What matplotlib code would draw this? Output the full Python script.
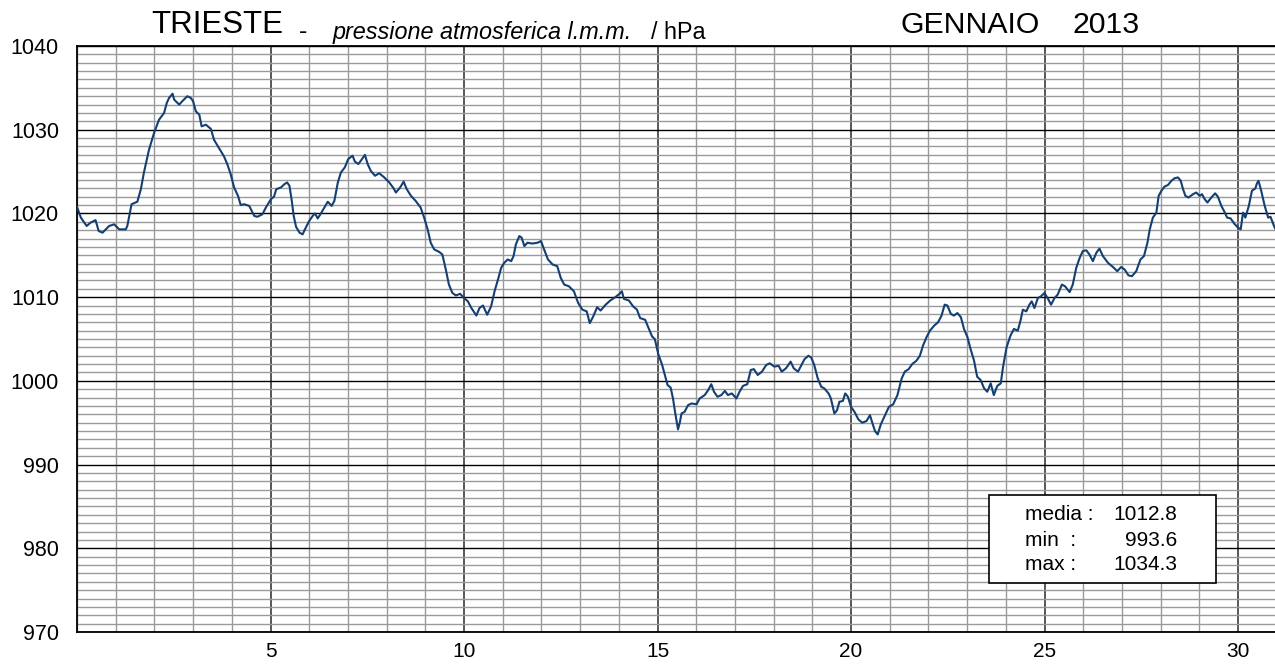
import matplotlib
matplotlib.use("Agg")
import matplotlib.pyplot as plt
from matplotlib.patches import Rectangle
from matplotlib.ticker import MultipleLocator

plt.rcParams['font.family'] = ['Liberation Sans', 'DejaVu Sans']

# ---- data (day of month offset, pressure hPa) ----
days = [
    0.00, 0.10, 0.25, 0.35, 0.48, 0.56, 0.66, 0.83, 0.96, 1.09, 1.26, 1.30, 1.41, 1.56, 1.65, 1.73,
    1.86, 1.99, 2.12, 2.25, 2.32, 2.38, 2.47, 2.51, 2.64, 2.72, 2.85, 2.94, 3.00, 3.07, 3.16, 3.22,
    3.33, 3.46, 3.54, 3.67, 3.80, 3.89, 3.97, 4.06, 4.16, 4.23, 4.32, 4.45, 4.58, 4.66, 4.79, 4.88,
    5.01, 5.09, 5.15, 5.27, 5.36, 5.43, 5.49, 5.55, 5.60, 5.66, 5.75, 5.83, 5.89, 6.00, 6.09, 6.15,
    6.22, 6.29, 6.39, 6.48, 6.58, 6.65, 6.74, 6.82, 6.92, 7.01, 7.12, 7.18, 7.27, 7.35, 7.44, 7.51,
    7.59, 7.70, 7.81, 7.94, 8.07, 8.18, 8.24, 8.35, 8.44, 8.52, 8.63, 8.75, 8.88, 8.97, 9.06, 9.14,
    9.23, 9.36, 9.44, 9.53, 9.61, 9.70, 9.79, 9.90, 10.00,
    10.10, 10.19, 10.32, 10.40, 10.49, 10.60, 10.70, 10.79, 10.89, 10.96, 11.04, 11.13, 11.22, 11.28,
    11.34, 11.43, 11.49, 11.56, 11.64, 11.77, 11.90, 11.99, 12.07, 12.17, 12.29, 12.41, 12.50, 12.59,
    12.71, 12.84, 12.95, 13.06, 13.17, 13.25, 13.34, 13.44, 13.53, 13.66, 13.78, 13.91, 14.02, 14.08,
    14.13, 14.26, 14.37, 14.47, 14.55, 14.68, 14.77, 14.86, 14.93,
    15.02, 15.12, 15.19, 15.26, 15.34, 15.40, 15.46, 15.53, 15.58, 15.62, 15.70, 15.79, 15.88, 16.01,
    16.09, 16.22, 16.31, 16.39, 16.46, 16.55, 16.65, 16.74, 16.82, 16.92, 17.04, 17.12, 17.21, 17.32,
    17.41, 17.49, 17.59, 17.70, 17.81, 17.90, 18.02, 18.13, 18.21, 18.32, 18.44, 18.52, 18.63, 18.71,
    18.80, 18.90, 18.97, 19.05, 19.14, 19.23, 19.31, 19.42, 19.48, 19.57, 19.64, 19.70, 19.79, 19.85,
    19.92, 20.00,
    20.09, 20.19, 20.29, 20.40, 20.49, 20.55, 20.62, 20.69, 20.77, 20.88, 20.98, 21.09, 21.20, 21.31,
    21.39, 21.49, 21.58, 21.69, 21.78, 21.86, 21.95, 22.04, 22.15, 22.25, 22.34, 22.42, 22.49, 22.58,
    22.66, 22.75, 22.84, 22.92, 23.01, 23.09, 23.18, 23.26, 23.35, 23.44, 23.52, 23.61, 23.69, 23.78,
    23.87, 23.93, 24.02, 24.12, 24.21, 24.31, 24.38, 24.44, 24.53, 24.61, 24.67, 24.74, 24.83, 24.91,
    25.00,
    25.09, 25.17, 25.26, 25.34, 25.45, 25.53, 25.65, 25.73, 25.82, 25.91, 25.99, 26.08, 26.16, 26.25,
    26.34, 26.42, 26.51, 26.64, 26.77, 26.88, 26.98, 27.07, 27.17, 27.26, 27.37, 27.48, 27.57, 27.66,
    27.72, 27.80, 27.89, 27.95, 28.02, 28.10, 28.19, 28.28, 28.36, 28.45, 28.52, 28.58, 28.64, 28.72,
    28.84, 28.92, 29.01, 29.07, 29.14, 29.21, 29.31, 29.41, 29.48, 29.57, 29.66, 29.72, 29.81, 29.90,
    30.00, 30.07, 30.13, 30.19, 30.28, 30.36, 30.45, 30.49, 30.53, 30.60, 30.69, 30.78, 30.84, 30.93,
    30.97, 31.00,
]
pressure = [
    1020.8, 1019.5, 1018.5, 1018.9, 1019.2, 1017.9, 1017.7, 1018.5, 1018.7, 1018.1, 1018.1, 1018.5,
    1021.1, 1021.4, 1022.9, 1024.9, 1027.6, 1029.6, 1031.2, 1032.0, 1033.2, 1033.8, 1034.3, 1033.6,
    1033.0, 1033.4, 1034.0, 1033.8, 1033.4, 1032.2, 1031.8, 1030.4, 1030.6, 1030.1, 1028.8, 1027.8,
    1026.8, 1025.8, 1024.7, 1023.1, 1022.1, 1021.0, 1021.1, 1020.9, 1019.7, 1019.6, 1019.9, 1020.7,
    1021.7, 1022.0, 1022.9, 1023.1, 1023.5, 1023.7, 1023.3, 1021.5, 1019.7, 1018.4, 1017.7, 1017.5,
    1018.1, 1019.1, 1019.7, 1020.0, 1019.4, 1019.9, 1020.7, 1021.4, 1020.9, 1021.5, 1023.7, 1024.9,
    1025.5, 1026.5, 1026.9, 1026.2, 1025.9, 1026.4, 1027.0, 1025.9, 1025.1, 1024.5, 1024.8, 1024.3,
    1023.7, 1023.0, 1022.5, 1023.1, 1023.8, 1022.9, 1022.1, 1021.5, 1020.7, 1019.5, 1018.1, 1016.5,
    1015.7, 1015.4, 1015.1, 1013.3, 1011.5, 1010.5, 1010.2, 1010.4, 1009.9,
    1009.5, 1008.7, 1007.8, 1008.7, 1009.0, 1007.9, 1008.9, 1010.7, 1012.3, 1013.5, 1014.1, 1014.5,
    1014.3, 1014.9, 1016.3, 1017.3, 1017.1, 1016.1, 1016.5, 1016.4, 1016.5, 1016.7, 1015.7, 1014.5,
    1013.9, 1013.7, 1012.3, 1011.5, 1011.3, 1010.7, 1009.3, 1008.5, 1008.3, 1006.9, 1007.7, 1008.8,
    1008.4, 1009.1, 1009.6, 1010.0, 1010.4, 1010.7, 1009.8, 1009.6, 1008.9, 1008.5, 1007.5, 1007.3,
    1006.3, 1005.3, 1005.0,
    1003.2, 1001.9, 1000.7, 999.5, 999.2, 997.9, 996.1, 994.2, 995.1, 996.1, 996.3, 997.1, 997.3,
    997.2, 997.9, 998.3, 998.9, 999.6, 998.7, 998.1, 998.3, 998.8, 998.3, 998.5, 997.9, 998.7, 999.4,
    999.6, 1001.3, 1001.4, 1000.7, 1001.1, 1001.9, 1002.1, 1001.7, 1001.8, 1001.1, 1001.5, 1002.3,
    1001.5, 1001.1, 1001.8, 1002.6, 1003.0, 1002.8, 1001.9, 1000.3, 999.3, 999.1, 998.5, 997.9, 996.1,
    996.5, 997.5, 997.6, 998.5, 998.1, 996.9,
    996.3, 995.4, 995.0, 995.2, 995.9, 995.0, 994.0, 993.6, 994.8, 995.9, 996.9, 997.2, 998.3, 1000.3,
    1001.1, 1001.4, 1002.0, 1002.4, 1003.0, 1004.2, 1005.2, 1006.0, 1006.6, 1007.0, 1007.8, 1009.1,
    1009.0, 1008.0, 1007.8, 1008.1, 1007.6, 1006.2, 1005.2, 1003.8, 1002.4, 1000.5, 1000.1, 999.1,
    998.7, 999.7, 998.3, 999.4, 999.7, 1001.7, 1004.0, 1005.4, 1006.2, 1006.0, 1007.2, 1008.5, 1008.3,
    1009.1, 1009.5, 1008.7, 1009.9, 1010.1, 1010.5,
    1009.8, 1009.1, 1009.9, 1010.3, 1011.5, 1011.3, 1010.6, 1011.5, 1013.5, 1014.7, 1015.5, 1015.6,
    1015.1, 1014.3, 1015.3, 1015.8, 1014.9, 1014.1, 1013.6, 1013.1, 1013.6, 1013.3, 1012.6, 1012.5,
    1013.1, 1014.5, 1014.9, 1016.5, 1018.1, 1019.5, 1020.1, 1022.1, 1022.7, 1023.2, 1023.4, 1023.9,
    1024.2, 1024.3, 1023.9, 1022.9, 1022.1, 1021.9, 1022.3, 1022.5, 1022.1, 1022.3, 1021.7, 1021.3,
    1021.9, 1022.4, 1022.0, 1020.9, 1020.1, 1019.5, 1019.4, 1018.8, 1018.3, 1018.1, 1020.1, 1019.5,
    1020.9, 1022.7, 1023.0, 1023.6, 1023.9, 1022.7, 1020.9, 1019.5, 1019.6, 1018.5, 1018.1, 1017.9,
]

x_ticks = [5, 10, 15, 20, 25, 30]
y_ticks = [970, 980, 990, 1000, 1010, 1020, 1030, 1040]
stat_labels = ["media :", "min  :", "max :"]
stat_values = ["1012.8", "993.6", "1034.3"]

W, H = 1275, 666
fig = plt.figure(figsize=(W / 100, H / 100), dpi=100)
fig.patch.set_facecolor("white")

left_px, right_px, top_px, bot_px = 77, 1276.7, 46, 632
ax = fig.add_axes([left_px / W, 1 - bot_px / H, (right_px - left_px) / W, (bot_px - top_px) / H])

ax.set_xlim(0, 31)
ax.set_ylim(970, 1040)

# grids
ax.xaxis.set_minor_locator(MultipleLocator(1))
ax.yaxis.set_minor_locator(MultipleLocator(1))
ax.set_xticks(x_ticks)
ax.set_yticks(y_ticks)
ax.grid(which="minor", axis="both", color="#9a9a9a", linewidth=1.0, zorder=0)
ax.grid(which="major", axis="y", color="#000000", linewidth=1.0, zorder=1)
ax.grid(which="major", axis="x", color="#2a2a2a", linewidth=1.1, zorder=1)
ax.set_axisbelow(True)

ax.plot(days, pressure, color="#143f73", linewidth=1.5, zorder=3)

ax.tick_params(which="both", length=0)
ax.tick_params(axis="y", labelsize=15.5, pad=13)
ax.tick_params(axis="x", labelsize=15, pad=7)
for sp in ax.spines.values():
    sp.set_color("#000000")
    sp.set_linewidth(1.3)

def fx(px):
    return px / W

def fy(py):
    return 1 - py / H

# titles
fig.text(fx(151), fy(33), "TRIESTE", fontsize=22.5, ha="left", va="baseline")
fig.text(fx(299), fy(39), "-", fontsize=18, ha="left", va="baseline")
fig.text(fx(333), fy(39), "pressione atmosferica l.m.m.", fontsize=16.8, style="italic",
         ha="left", va="baseline")
fig.text(fx(651), fy(39), "/ hPa", fontsize=16.8, ha="left", va="baseline")
fig.text(fx(900), fy(33), "GENNAIO", fontsize=21.8, ha="left", va="baseline")
fig.text(fx(1073), fy(33), "2013", fontsize=21.8, ha="left", va="baseline")

# stats box
box = Rectangle((fx(989), fy(583)), (1216 - 989) / W, (583 - 495) / H,
                transform=fig.transFigure, facecolor="white", edgecolor="black",
                linewidth=1.2, zorder=10)
fig.add_artist(box)
for i, (lab, val) in enumerate(zip(stat_labels, stat_values)):
    yc = 515 + 25 * i
    fig.text(fx(1025), fy(yc), lab, fontsize=15, ha="left", va="center", zorder=11)
    fig.text(fx(1177), fy(yc), val, fontsize=15, ha="right", va="center", zorder=11)

fig.savefig("out.png", dpi=100)
